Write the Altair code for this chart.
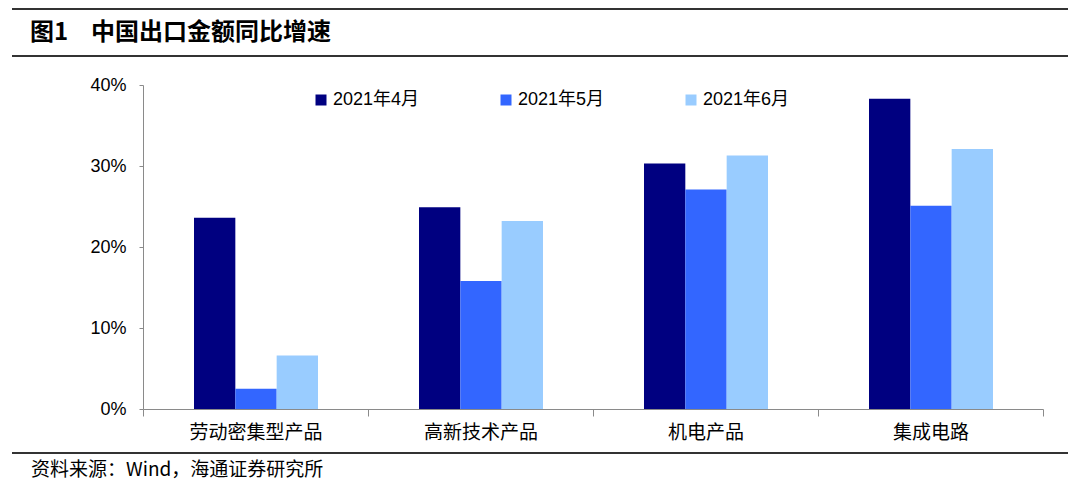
import altair as alt
import pandas as pd

categories = ["劳动密集型产品", "高新技术产品", "机电产品", "集成电路"]
series = ["2021年4月", "2021年5月", "2021年6月"]
apr = [0.236, 0.249, 0.303, 0.383]
may = [0.025, 0.158, 0.271, 0.251]
jun = [0.066, 0.232, 0.313, 0.321]
colors = ["#000080", "#3366FF", "#99CCFF"]
y_ticks = [0, 0.1, 0.2, 0.3, 0.4]

rows = []
for s, vals in zip(series, [apr, may, jun]):
    for c, v in zip(categories, vals):
        rows.append({"cat": c, "series": s, "value": v})
df = pd.DataFrame(rows)

LATIN = "Liberation Sans, Arial, Noto Sans CJK SC"
CJK = "Noto Sans CJK SC"
AXIS_GRAY = "#8a8a8a"

bars = alt.Chart(df).mark_bar().encode(
    x=alt.X(
        "cat:N",
        sort=categories,
        scale=alt.Scale(paddingInner=0, paddingOuter=0),
        axis=alt.Axis(
            title=None,
            labelAngle=0,
            tickBand="extent",
            tickSize=7,
            tickColor=AXIS_GRAY,
            domainColor=AXIS_GRAY,
            labelFont=CJK,
            labelFontSize=19,
            labelColor="#000000",
            labelPadding=7,
        ),
    ),
    xOffset=alt.XOffset(
        "series:N",
        sort=series,
        scale=alt.Scale(paddingInner=0, paddingOuter=0, range=[51, 175]),
    ),
    y=alt.Y(
        "value:Q",
        scale=alt.Scale(domain=[0, 0.4], nice=False, zero=True),
        axis=alt.Axis(
            title=None,
            values=y_ticks,
            format=".0%",
            grid=False,
            tickSize=4,
            tickColor=AXIS_GRAY,
            domainColor=AXIS_GRAY,
            labelFont=LATIN,
            labelFontSize=18,
            labelColor="#000000",
            labelPadding=13,
        ),
    ),
    color=alt.Color(
        "series:N",
        sort=series,
        scale=alt.Scale(domain=series, range=colors),
        legend=alt.Legend(
            title=None,
            orient="none",
            legendX=169,
            legendY=6,
            direction="horizontal",
            symbolType="square",
            symbolSize=121,
            symbolStrokeWidth=0,
            symbolOpacity=1,
            labelFont=LATIN,
            labelFontSize=18,
            labelColor="#000000",
            labelOffset=3,
            columnPadding=77,
            padding=0,
        ),
    ),
)

one = pd.DataFrame({"k": [0]})

def hline(y):
    return alt.Chart(one).mark_rule(color="#333333", strokeWidth=2).encode(
        x=alt.value(-131), x2=alt.value(925), y=alt.value(y)
    )

def label(txt, x, y, size, font, weight="normal"):
    return alt.Chart(one).mark_text(
        align="left", baseline="middle", fontSize=size, font=font,
        fontWeight=weight, color="#000000",
    ).encode(x=alt.value(x), y=alt.value(y), text=alt.value(txt))

chart = alt.layer(
    bars,
    hline(-76),
    hline(-29),
    hline(368),
    label("图1", -113, -52, 24, CJK, "bold"),
    label("中国出口金额同比增速", -52, -52, 24, CJK, "bold"),
    label("资料来源：Wind，海通证券研究所", -112, 385, 19, CJK),
).properties(
    width=900,
    height=324,
    autosize=alt.AutoSizeParams(type="none"),
    padding={"left": 135, "top": 77, "right": 29, "bottom": 73},
).configure_view(strokeWidth=0)

chart.save("out.html", embed_options={"renderer": "svg", "actions": False})
